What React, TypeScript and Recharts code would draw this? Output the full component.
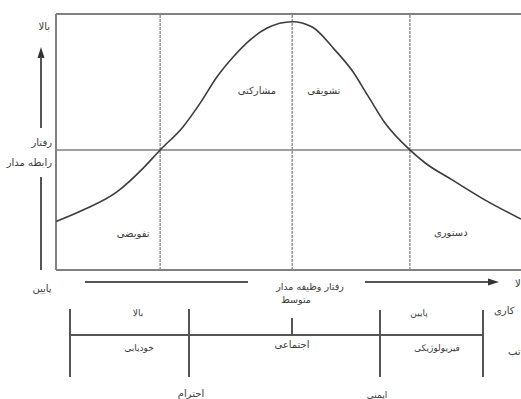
import {
  ComposedChart,
  Line,
  XAxis,
  YAxis,
  ReferenceLine,
  ReferenceDot,
} from "recharts";

// رفتار وظیفه مدار (x) و رفتار رابطه مدار (y) خوانده شده از منحنی
const taskBehavior = [0, 5.8, 13.1, 18.7, 22.4, 27.3, 31.0, 34.6, 38.1, 41.7, 45.4, 50.8, 55.1, 60.0, 63.6, 67.2, 70.8, 76.1, 79.4, 85.2, 92.3, 100];
const relationBehavior = [18.9, 23.4, 30.5, 39.7, 46.9, 55.9, 65.2, 75.4, 83.2, 89.8, 94.5, 97.0, 94.9, 85.9, 78.1, 67.7, 57.3, 46.9, 41.8, 35.2, 27.3, 19.9];

// مرز سبک ها و خط میانی
const styleBoundaries = [22.4, 50.8, 76.1];
const midRelation = 46.9;

const styleNames = ["تفویضی", "مشارکتی", "تشویقی", "دستوری"];
const styleLabelX = [16.6, 43.2, 57.6, 84.9];
const styleLabelY = [14.1, 70.3, 70.3, 14.5];

const curveData = taskBehavior.map((x, i) => ({ x, y: relationBehavior[i] }));

const FONT = "'DejaVu Sans', sans-serif";
const TEXT = "#3a3a3a";
const BOX = "#808080";
const DARK = "#555";

const Annotations = () => (
  <svg
    width={521}
    height={399}
    style={{ position: "absolute", left: 0, top: 0, pointerEvents: "none" }}
    fontFamily={FONT}
    fontSize={10}
    fill={TEXT}
  >
    {/* محور عمودی */}
    <text x={50} y={30} textAnchor="end">بالا</text>
    <polygon points="41,47 37.5,58 44.5,58" fill="#333" />
    <line x1={41} y1={57} x2={41} y2={128} stroke={DARK} strokeWidth={2} />
    <text x={52} y={146} textAnchor="end">رفتار</text>
    <text x={52} y={166} textAnchor="end">رابطه مدار</text>
    <line x1={41} y1={177} x2={41} y2={270} stroke={DARK} strokeWidth={2} />
    <text x={42} y={292} textAnchor="middle">پایین</text>

    {/* محور افقی */}
    <line x1={85} y1={282} x2={248} y2={282} stroke={DARK} strokeWidth={2} />
    <text x={310} y={290} textAnchor="middle" fontSize={9.5}>رفتار وظیفه مدار</text>
    <line x1={365} y1={282} x2={490} y2={282} stroke={DARK} strokeWidth={2} />
    <polygon points="499,282 488,278.5 488,285.5" fill="#333" />
    <text x={515} y={287} textAnchor="start">بالا</text>

    {/* جدول نیازها */}
    <line x1={70} y1={335} x2={483} y2={335} stroke={DARK} strokeWidth={2} />
    <line x1={70} y1={309} x2={70} y2={377} stroke={DARK} strokeWidth={2} />
    <line x1={189} y1={309} x2={189} y2={377} stroke={DARK} strokeWidth={2} />
    <line x1={292} y1={318} x2={292} y2={335} stroke={DARK} strokeWidth={2} />
    <line x1={380} y1={310} x2={380} y2={377} stroke={DARK} strokeWidth={2} />
    <line x1={483} y1={310} x2={483} y2={377} stroke={DARK} strokeWidth={2} />

    <text x={138} y={316} textAnchor="middle" fontSize={9}>بالا</text>
    <text x={139} y={351} textAnchor="middle" fontSize={9}>خودیابی</text>
    <text x={191} y={397} textAnchor="middle">احترام</text>
    <text x={296} y={303} textAnchor="middle" fontSize={9.5}>متوسط</text>
    <text x={292} y={348} textAnchor="middle">اجتماعی</text>
    <text x={377} y={398} textAnchor="middle" fontSize={9}>ایمنی</text>
    <text x={419} y={316} textAnchor="middle" fontSize={9}>پایین</text>
    <text x={437} y={351} textAnchor="middle" fontSize={9}>فیزیولوژیکی</text>
    <text x={494} y={314} textAnchor="start">کاری</text>
    <text x={508} y={355} textAnchor="start">سلسله مراتب</text>
  </svg>
);

export default function App() {
  return (
    <div style={{ position: "absolute", left: 0, top: 0, width: 521, height: 399, background: "#fff", overflow: "hidden" }}>
      <ComposedChart
        width={521}
        height={399}
        data={curveData}
        margin={{ top: 14, right: 0, bottom: 129, left: 56 }}
      >
        <XAxis type="number" dataKey="x" domain={[0, 100]} hide />
        <YAxis type="number" domain={[0, 100]} hide />

        <ReferenceLine y={100} stroke={BOX} strokeWidth={2} />
        <ReferenceLine y={0} stroke={BOX} strokeWidth={2} />
        <ReferenceLine x={0} stroke={BOX} strokeWidth={2} />
        <ReferenceLine y={midRelation} stroke={BOX} strokeWidth={1.6} />
        {styleBoundaries.map((b) => (
          <ReferenceLine key={b} x={b} stroke="#8c8c8c" strokeWidth={1.4} strokeDasharray="3 1" />
        ))}

        {styleNames.map((name, i) => (
          <ReferenceDot
            key={name}
            x={styleLabelX[i]}
            y={styleLabelY[i]}
            r={0}
            fill="none"
            stroke="none"
            label={{ value: name, position: "center", fill: TEXT, fontSize: 10, fontFamily: FONT }}
          />
        ))}

        <Line
          type="monotone"
          dataKey="y"
          stroke="#3c3c3c"
          strokeWidth={1.6}
          dot={false}
          isAnimationActive={false}
        />
      </ComposedChart>
      <Annotations />
    </div>
  );
}
